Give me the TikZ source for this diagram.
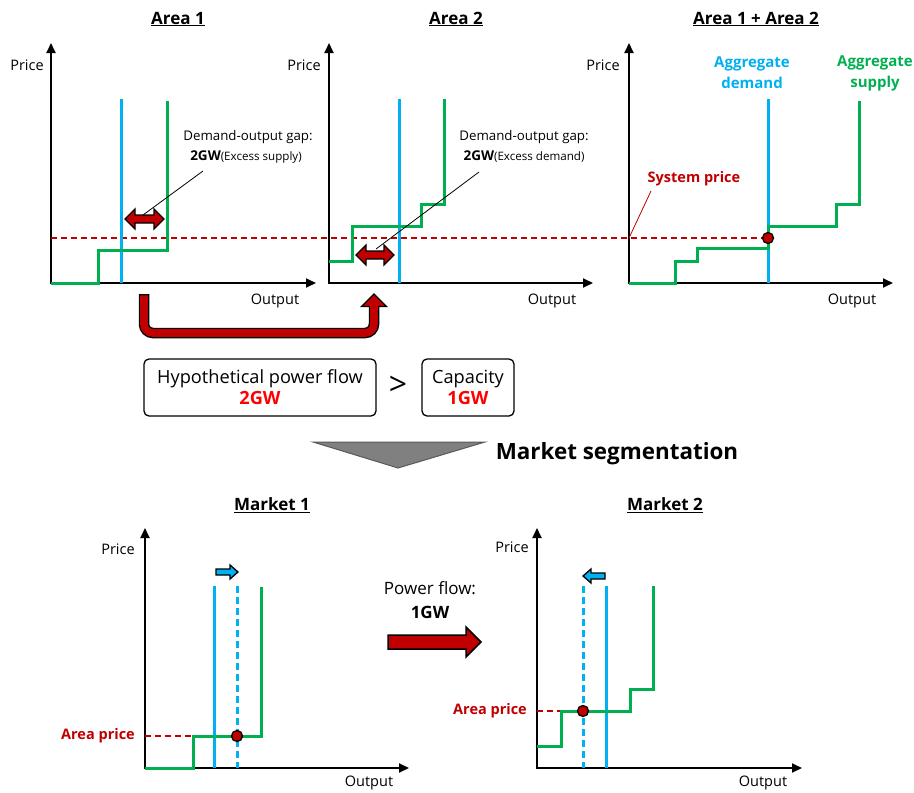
\documentclass[tikz,border=0pt]{standalone}
\usepackage{fontspec}
\setmainfont{Open Sans}
\usetikzlibrary{arrows.meta}
\definecolor{cblue}{HTML}{00B0F0}
\definecolor{cgreen}{HTML}{00B050}
\definecolor{dred}{HTML}{C00000}
\definecolor{bred}{HTML}{FF0000}
\definecolor{tgray}{HTML}{808080}
\definecolor{tgrayd}{HTML}{595959}
\newcommand\fsz[1]{\fontsize{#1}{#1}\selectfont}
\begin{document}
\begin{tikzpicture}[x=1pt,y=-1pt,
 axis/.style={line width=1.8pt,line cap=rect,-{Triangle[length=10pt,width=9pt]}},
 dem/.style={cblue,line width=3pt},
 demshift/.style={cblue,line width=3pt,dash pattern=on 7pt off 4pt},
 sup/.style={cgreen,line width=3pt,line join=miter},
 price/.style={dred,line width=1.5pt,dash pattern=on 6pt off 4pt},
 lbl/.style={inner sep=0pt,font=\fsz{14.5}},
 ttl/.style={inner sep=0pt,font=\fsz{17}\bfseries},
 bigarrow/.style={draw=black,line width=1.5pt,fill=dred,line join=miter},
 smallarrow/.style={draw=black,line width=1.3pt,fill=cblue,line join=miter},
 dot/.style={circle,draw=black,line width=1.3pt,fill=dred,minimum size=11pt,inner sep=0pt},
 leader/.style={black,line width=0.8pt},
 gapnote/.style={inner sep=0pt,font=\fsz{13.3}},
 infobox/.style={draw=black,line width=1.3pt,rounded corners=5pt,align=center,font=\fontsize{18.2}{21}\selectfont,minimum height=57pt,inner sep=0pt},
 agg/.style={inner sep=0pt,align=center,font=\fontsize{15}{21}\selectfont\bfseries},
 redlbl/.style={inner sep=0pt,text=dred,font=\fsz{14.5}\bfseries}
]
\useasboundingbox (0,0) rectangle (914,793);

% ---------- Area 1 ----------
\node[ttl] (t1) at (178,19) {\underline{Area 1}};
\draw[axis] (51,283) -- (51,43);
\draw[axis] (51,283) -- (316,283);
\node[lbl] (p1) at (27,65) {Price};
\node[lbl] (o1) at (275,301) {Output};

% ---------- Area 2 ----------
\node[ttl] (t2) at (456,19) {\underline{Area 2}};
\draw[axis] (329,283) -- (329,43);
\draw[axis] (329,283) -- (593,283);
\node[lbl] (p2) at (304,65) {Price};
\node[lbl] (o2) at (552,301) {Output};

% ---------- Area 1 + Area 2 ----------
\node[ttl] (t3) at (756,19) {\underline{Area 1 + Area 2}};
\draw[axis] (629,283) -- (629,43);
\draw[axis] (629,283) -- (893,283);
\node[lbl] (p3) at (603,65) {Price};
\node[lbl] (o3) at (852,301) {Output};

% system price line
\draw[price] (51,238) -- (763,238);

% curves area 1
\draw[dem] (121,99) -- (121,283);
\draw[sup] (51,283) -- (98,283) -- (98,250) -- (167,250) -- (167,101);
% curves area 2
\draw[dem] (399,99) -- (399,283);
\draw[sup] (329,261) -- (352,261) -- (352,226) -- (421,226) -- (421,204) -- (444,204) -- (444,99);
% curves area 3
\draw[dem] (768,99) -- (768,283);
\draw[sup] (629,283) -- (675,283) -- (675,261) -- (697,261) -- (697,248) -- (768,248) -- (768,226) -- (836,226) -- (836,204) -- (859,204) -- (859,101);
\node[dot] (d3) at (768,238) {};

% gap arrows
\draw[bigarrow,line width=1.3pt] (125,219) -- (135,209) -- (135,215) -- (154,215) -- (154,209) -- (164,219) -- (154,229) -- (154,223) -- (135,223) -- (135,229) -- cycle;
\draw[bigarrow,line width=1.3pt] (356,255) -- (366,245) -- (366,251) -- (384,251) -- (384,245) -- (394,255) -- (384,265) -- (384,259) -- (366,259) -- (366,265) -- cycle;

% annotations
\node[gapnote] (g1a) at (248,137) {Demand-output gap:};
\node[inner sep=0pt] (g1b) at (246,157) {{\fsz{13.5}\bfseries 2GW}{\fsz{11.6}(Excess supply)}};
\coordinate (g1s) at (203,171);
\coordinate (g1e) at (143,215);
\draw[leader] (g1s) -- (g1e);

\node[gapnote] (g2a) at (524,137) {Demand-output gap:};
\node[inner sep=0pt] (g2b) at (524,157) {{\fsz{13.5}\bfseries 2GW}{\fsz{11.6}(Excess demand)}};
\coordinate (g2s) at (479,172);
\coordinate (g2e) at (376,249);
\draw[leader] (g2s) -- (g2e);

\node[agg,text=cblue] (ad) at (752,73) {Aggregate\\demand};
\node[agg,text=cgreen] (as) at (875,73) {Aggregate\\supply};
\node[redlbl] (sp) at (694,179) {System price};
\coordinate (sps) at (651,191);
\coordinate (spe) at (629,238);
\draw[dred,line width=0.8pt] (sps) -- (spe);

% U-shaped flow arrow
\draw[black,line width=10.5pt,rounded corners=9pt] (144,294) -- (144,333) -- (374,333) -- (374,306);
\draw[bigarrow,line width=1.3pt] (361.5,306.5) -- (374,294) -- (386.5,306.5) -- cycle;
\draw[dred,line width=7.8pt,rounded corners=9pt] (144,295.4) -- (144,333) -- (374,333) -- (374,304.5);

% boxes
\node[infobox,minimum width=232pt] (hb) at (260,387.5) {Hypothetical power flow\\{\bfseries\color{bred}2GW}};
\node[inner sep=0pt,font=\fsz{32}] (gt) at (398,386) {>};
\node[infobox,minimum width=92pt] (cb) at (468,387.5) {Capacity\\{\bfseries\color{bred}1GW}};

% segmentation triangle
\draw[fill=tgray,draw=tgrayd,line width=1pt] (313,442) -- (485,442) -- (398,468) -- cycle;
\node[inner sep=0pt,font=\fsz{22.4}\bfseries] (ms) at (617,454) {Market segmentation};

% ---------- Market 1 ----------
\node[ttl] (m1) at (272,505) {\underline{Market 1}};
\draw[axis] (145,768) -- (145,528);
\draw[axis] (145,768) -- (409,768);
\node[lbl] (mp1) at (118,549) {Price};
\node[lbl] (mo1) at (369,783) {Output};
\draw[price] (145,736) -- (193,736);
\draw[dem] (214,586) -- (214,768);
\draw[demshift] (237,586) -- (237,768);
\draw[sup] (145,768) -- (193,768) -- (193,736) -- (261,736) -- (261,587);
\node[dot] (md1) at (237,736) {};
\node[redlbl] (ap1) at (98,736) {Area price};
\draw[smallarrow] (216,569) -- (230,569) -- (230,565) -- (238,572) -- (230,579) -- (230,575) -- (216,575) -- cycle;

% power flow
\node[inner sep=0pt,align=center,font=\fontsize{17}{24}\selectfont] (pf) at (430,600) {Power flow:\\{\bfseries 1GW}};
\draw[bigarrow] (388,635) -- (466,635) -- (466,627) -- (481,642) -- (466,657) -- (466,649) -- (388,649) -- cycle;

% ---------- Market 2 ----------
\node[ttl] (m2) at (665,505) {\underline{Market 2}};
\draw[axis] (537,768) -- (537,528);
\draw[axis] (537,768) -- (802,768);
\node[lbl] (mp2) at (512,547) {Price};
\node[lbl] (mo2) at (763,783) {Output};
\draw[price] (537,711) -- (561,711);
\draw[demshift] (583,586) -- (583,768);
\draw[dem] (606,586) -- (606,768);
\draw[sup] (537,746) -- (561,746) -- (561,711) -- (630,711) -- (630,689) -- (653,689) -- (653,586);
\node[dot] (md2) at (583,711) {};
\node[redlbl] (ap2) at (490,711) {Area price};
\draw[smallarrow] (605,573) -- (591,573) -- (591,569) -- (583,576) -- (591,583) -- (591,579) -- (605,579) -- cycle;
\end{tikzpicture}
\end{document}
